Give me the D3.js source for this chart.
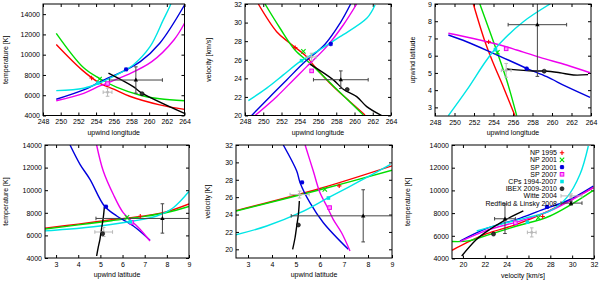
<!DOCTYPE html>
<html><head><meta charset="utf-8">
<script src="https://cdn.jsdelivr.net/npm/d3@7"></script>
<style>
body{margin:0;background:#fff}
svg{display:block}
text{font-family:"Liberation Sans",Arial,sans-serif;fill:#000}
</style>
</head><body><svg id="c" width="600" height="282"></svg>
<script>
// ---------- tick values ----------
const lonTicks = [248,250,252,254,256,258,260,262,264];
const latTicks = [3,4,5,6,7,8,9];
const tempTicks = [4000,6000,8000,10000,12000,14000];
const velTicks = [20,22,24,26,28,30,32];

// ---------- curves: panel 1 (longitude, temperature) ----------
const p1Red = [[249.5,11000],[252.4,8500],[254.4,7200],[256,6600],[257.8,5900],[261.2,5050],[264,4600]];
const p1Green = [[249.5,12100],[252.6,8700],[254.5,7600],[256.3,6800],[259,6000],[261.2,5650],[264,5450]];
const p1Blue = [[249.5,5600],[252.6,6520],[254.5,7340],[257.5,8560],[259,9310],[261.2,11130],[264,14900]];
const p1Magenta = [[249.5,5460],[252.6,6190],[254.5,6940],[257.5,8000],[260.3,9310],[262.8,11450],[264,13100]];
const p1Cyan = [[249.5,6450],[252.6,6690],[254.5,7240],[256.3,8000],[258.2,8990],[260.1,10790],[261.6,13430],[262.4,14900],[262.6,15500]];
const p1Black = [[255.4,8170],[258.2,6840],[259.2,6200],[264,4200]];

// ---------- panel 2 (longitude, velocity) ----------
const p2Red = [[249.46,32],[251.47,29.02],[252.93,27.77],[254.76,26.33],[255.49,25.44],[257.68,23.11],[259.51,21.49],[261.15,20.06]];
const p2Green = [[250.19,32],[251.84,29.39],[253.48,27.05],[255.12,25.62],[257.68,23.18],[260.97,20.06]];
const p2Blue = [[248.73,20.0],[250.74,22.03],[252.57,23.83],[254.39,25.62],[256.77,27.67],[258.41,29.92],[259.58,32]];
const p2Magenta = [[249.1,20],[251.47,22.03],[253.3,23.83],[254.76,25.26],[256.95,27.41],[258.77,29.74],[260.24,32]];
const p2Cyan = [[248.37,21.6],[250.38,22.94],[252.2,24.37],[254.03,25.8],[255.86,26.87],[258.41,28.48],[261.34,30.46],[262.25,31.9]];
const p2Black = [[255.12,25.52],[257.68,23.83],[258.77,22.83],[260.24,22.03],[261.34,20.96],[262.98,19.99]];

// ---------- panel 3 (longitude, latitude) ----------
const p3Red = [[251.93,9],[253.13,6.81],[253.98,5.56],[255.0,4.2],[256.2,2.52]];
const p3Green = [[252.6,9],[254.3,6.33],[255.35,4.59],[256.38,2.52]];
const p3Blue = [[249.37,7.2],[251.25,6.81],[253.98,6.14],[257.4,5.27],[259.46,4.78],[261.5,4.2],[263.9,3.58]];
const p3Magenta = [[249.37,7.3],[251.93,7.0],[254.67,6.62],[256.38,6.33],[258.77,5.9],[261.5,5.46],[263.9,5.01]];
const p3Cyan = [[249.37,2.52],[251.25,4.0],[253.3,5.75],[254.67,6.72],[257.06,7.97],[259.8,9]];
const p3Black = [[255.35,5.23],[258.1,5.11],[259.3,5.11],[260.8,5.01],[262.2,4.88],[263.7,4.9]];

// ---------- panel 4 (latitude, temperature) ----------
const p4Red = [[2.5,6640],[4,7000],[5.5,7380],[7,7730],[8,8100],[9,8780]];
const p4Green = [[2.5,6560],[4,6930],[5.5,7300],[7,7680],[8,8030],[9,8560]];
const p4Blue = [[3.63,14000],[4.08,12290],[4.53,10960],[5.18,8600],[5.74,7717],[6.49,6832],[7.24,5566]];
const p4Magenta = [[4.83,14000],[5.13,11700],[5.58,9637],[6.03,8009],[6.49,7124],[6.79,6540],[7.24,5504]];
const p4Cyan = [[2.42,6389],[3.48,6540],[4.98,6832],[6.49,7274],[7.54,7717],[8.29,8451],[9.08,10080]];
const p4Black = [[4.83,4177],[4.9,4912],[4.98,5655],[5.06,6681],[5.13,7566],[5.18,8513]];

// ---------- panel 5 (latitude, velocity) ----------
const p5Red = [[2.5,24.45],[6,27.0],[9,29.6]];
const p5Green = [[2.5,24.4],[6,26.85],[9,29.1]];
const p5Blue = [[4.47,32],[5.03,29.0],[5.17,27.66],[5.58,25.36],[6.14,23.06],[7.18,20.0]];
const p5Magenta = [[5.38,32],[5.72,29.0],[6.0,26.5],[6.28,24.98],[6.55,23.45],[6.9,21.9],[7.25,19.8]];
const p5Cyan = [[2.46,21.64],[3.78,22.68],[5.17,24.21],[6.35,25.94],[7.67,27.86],[8.94,29.78]];
const p5Black = [[4.86,20.0],[4.96,21.33],[5.03,22.68],[5.1,24.03],[5.14,25.56]];

// ---------- panel 6 (velocity, temperature) ----------
const p6Red = [[19,4722],[20.35,5392],[22.18,6185],[24.92,7013],[27.97,8247],[31.94,10240]];
const p6Green = [[19,5500],[20.5,5550],[22.18,6044],[24.92,6863],[27.97,7744],[31.94,10000]];
const p6Blue = [[19.73,5542],[22.18,6657],[24.92,7453],[27.36,8335],[29.5,9066],[31.94,10390]];
const p6Magenta = [[19.73,5480],[22.18,6480],[25.23,7300],[27.97,8187],[31.94,10240]];
const p6Cyan = [[21.26,6423],[23.4,7013],[25.84,7597],[27.97,8187],[29.5,9360],[30.72,11420],[31.48,13910]];
const p6Black = [[19.89,4220],[21.26,5692],[22.48,6573],[23.7,7300],[25.53,8187]];

// ---------- measurement points ----------
const pointNames = ["NP 1995","NP 2001","SP 2001","SP 2007","CPs 1994-2007","IBEX 2009-2010","Witte 2004","Redfield & Linsky 2008"];
const pointLon = [253.5, 254.4, 257.4, 255.3, 254.2, 259.2, 255.3, 258.5];
const pointLat = [6.8, 6.2, 5.25, 6.4, 6.35, 5.1, 5.15, 7.8];
const pointVel = [27.3, 26.9, 27.7, 24.8, 25.9, 22.8, 26.3, 23.85];
const pointTemp = [7700, 7600, 8550, 7150, 7200, 6150, 6300, 7500];
const witteErr = {lon:0.5, lat:0.4, v:0.4, T:400};
const rlErr = {lon:3.0, lat:3.0, v:0.95, T:1300};

// ---------- styling / layout ----------
const colors = {red:"#ff0000", green:"#00dd00", blue:"#0000dd", magenta:"#ee00ee", cyan:"#00e5e5", black:"#000000", gray:"#b8b8b8"};
const pointColors = [colors.red, colors.green, colors.blue, colors.magenta, colors.cyan, colors.black, colors.gray, colors.black];
const curveOrder = ["red","green","blue","magenta","cyan","black"];
const vals = {lon:pointLon, lat:pointLat, v:pointVel, T:pointTemp};

const panels = [
 {box:[43,184.5,4,115.5], xd:[248,264], yd:[4000,15000], xt:lonTicks, yt:tempTicks, xk:"lon", yk:"T", xl:"upwind longitude", yl:"temperature [K]", ylx:5, curves:[p1Red,p1Green,p1Blue,p1Magenta,p1Cyan,p1Black]},
 {box:[245,391,4,115.5], xd:[248,264], yd:[20,32], xt:lonTicks, yt:velTicks, xk:"lon", yk:"v", xl:"upwind longitude", yl:"velocity [km/s]", ylx:208, curves:[p2Red,p2Green,p2Blue,p2Magenta,p2Cyan,p2Black]},
 {box:[435,591,4,116], xd:[248,264], yd:[2.5,9], xt:lonTicks, yt:latTicks, xk:"lon", yk:"lat", xl:"upwind longitude", yl:"upwind latitude", ylx:412, curves:[p3Red,p3Green,p3Blue,p3Magenta,p3Cyan,p3Black]},
 {box:[45,189,145,258], xd:[2.5,9], yd:[4000,14000], xt:latTicks, yt:tempTicks, xk:"lat", yk:"T", xl:"upwind latitude", yl:"temperature [K]", ylx:5, curves:[p4Red,p4Green,p4Blue,p4Magenta,p4Cyan,p4Black]},
 {box:[236,392,145,258], xd:[2.5,9], yd:[19,32], xt:latTicks, yt:velTicks, xk:"lat", yk:"v", xl:"upwind latitude", yl:"velocity [K]", ylx:207, rlY:"lat", curves:[p5Red,p5Green,p5Blue,p5Magenta,p5Cyan,p5Black]},
 {box:[452,594,145,258.5], xd:[19,32], yd:[4000,14000], xt:velTicks, yt:tempTicks, xk:"v", yk:"T", xl:"velocity [km/s]", yl:"temperature [K]", ylx:407, legend:true, curves:[p6Red,p6Green,p6Blue,p6Magenta,p6Cyan,p6Black]}
];

const svg = d3.select("#c");
const FS = 7;

function drawMarker(g, k, cx, cy) {
  const c = pointColors[k];
  const h = 2.2;
  if (k === 0) g.append("path").attr("d",`M${cx-h},${cy}H${cx+h}M${cx},${cy-h}V${cy+h}`).attr("stroke",c).attr("stroke-width",1.1).attr("fill","none");
  else if (k === 1) g.append("path").attr("d",`M${cx-h},${cy-h}L${cx+h},${cy+h}M${cx-h},${cy+h}L${cx+h},${cy-h}`).attr("stroke",c).attr("stroke-width",1.1).attr("fill","none");
  else if (k === 2) g.append("path").attr("d",`M${cx-h},${cy}H${cx+h}M${cx},${cy-h}V${cy+h}M${cx-h*0.75},${cy-h*0.75}L${cx+h*0.75},${cy+h*0.75}M${cx-h*0.75},${cy+h*0.75}L${cx+h*0.75},${cy-h*0.75}`).attr("stroke",c).attr("stroke-width",1.3).attr("fill","none");
  else if (k === 3) g.append("rect").attr("x",cx-1.8).attr("y",cy-1.8).attr("width",3.6).attr("height",3.6).attr("fill","#ff99ff").attr("stroke",c).attr("stroke-width",1);
  else if (k === 4) g.append("rect").attr("x",cx-1.8).attr("y",cy-1.8).attr("width",3.6).attr("height",3.6).attr("fill",c);
  else if (k === 5) g.append("circle").attr("cx",cx).attr("cy",cy).attr("r",2).attr("fill","#333").attr("stroke","#000").attr("stroke-width",0.6);
  else if (k === 6) g.append("rect").attr("x",cx-1.2).attr("y",cy-1.2).attr("width",2.4).attr("height",2.4).attr("fill",c);
  else if (k === 7) g.append("path").attr("d",`M${cx},${cy-2.4}L${cx+2.2},${cy+1.6}L${cx-2.2},${cy+1.6}Z`).attr("fill",c);
}

function errBar(g, x1, y1, x2, y2, col, horiz) {
  g.append("line").attr("x1",x1).attr("y1",y1).attr("x2",x2).attr("y2",y2).attr("stroke",col).attr("stroke-width",1);
  const c = 1.8;
  if (horiz) {
    [x1,x2].forEach(xx=>g.append("line").attr("x1",xx).attr("x2",xx).attr("y1",y1-c).attr("y2",y1+c).attr("stroke",col).attr("stroke-width",1));
  } else {
    [y1,y2].forEach(yy=>g.append("line").attr("y1",yy).attr("y2",yy).attr("x1",x1-c).attr("x2",x1+c).attr("stroke",col).attr("stroke-width",1));
  }
}

panels.forEach((p, i) => {
  const [L,R,T,B] = p.box;
  const x = d3.scaleLinear().domain(p.xd).range([L,R]);
  const y = d3.scaleLinear().domain(p.yd).range([B,T]);
  const g = svg.append("g");
  const cid = "clip"+i;
  svg.append("clipPath").attr("id",cid).append("rect").attr("x",L).attr("y",T).attr("width",R-L).attr("height",B-T);

  const fmt = d => String(d);
  const ax = (a, tr, labels) => {
    const gg = g.append("g").attr("transform",tr).call(a);
    gg.select(".domain").remove();
    gg.selectAll("line").attr("stroke","#000");
    gg.selectAll("text").attr("font-size",FS).attr("font-family",'"Liberation Sans",Arial,sans-serif');
    if (!labels) gg.selectAll("text").remove();
  };
  ax(d3.axisBottom(x).tickValues(p.xt).tickSize(-3).tickPadding(4).tickFormat(fmt), `translate(0,${B})`, true);
  ax(d3.axisTop(x).tickValues(p.xt).tickSize(-3), `translate(0,${T})`, false);
  ax(d3.axisLeft(y).tickValues(p.yt).tickSize(-3).tickPadding(3).tickFormat(fmt), `translate(${L},0)`, true);
  ax(d3.axisRight(y).tickValues(p.yt).tickSize(-3), `translate(${R},0)`, false);

  g.append("text").attr("x",(L+R)/2).attr("y",B+19).attr("text-anchor","middle").attr("font-size",FS).text(p.xl);
  g.append("text").attr("transform",`translate(${p.ylx+3},${(T+B)/2}) rotate(-90)`).attr("text-anchor","middle").attr("font-size",FS).text(p.yl);

  const pg = g.append("g").attr("clip-path",`url(#${cid})`);
  const line = d3.line().x(d=>x(d[0])).y(d=>y(d[1])).curve(d3.curveCatmullRom.alpha(0.5));
  p.curves.forEach((c, j) => {
    pg.append("path").datum(c).attr("d",line).attr("fill","none").attr("stroke",colors[curveOrder[j]]).attr("stroke-width",1.4);
  });

  // Witte (gray) with error bars
  const wx = x(vals[p.xk][6]), wy = y(vals[p.yk][6]);
  errBar(pg, x(vals[p.xk][6]-witteErr[p.xk]), wy, x(vals[p.xk][6]+witteErr[p.xk]), wy, colors.gray, true);
  errBar(pg, wx, y(vals[p.yk][6]-witteErr[p.yk]), wx, y(vals[p.yk][6]+witteErr[p.yk]), colors.gray, false);
  drawMarker(pg, 6, wx, wy);
  // Redfield & Linsky
  const rx = x(vals[p.xk][7]), ry = y(vals[p.yk][7]);
  const ye = rlErr[p.rlY || p.yk];
  errBar(pg, x(vals[p.xk][7]-rlErr[p.xk]), ry, x(vals[p.xk][7]+rlErr[p.xk]), ry, "#444", true);
  errBar(pg, rx, y(vals[p.yk][7]-ye), rx, y(vals[p.yk][7]+ye), "#444", false);
  drawMarker(pg, 7, rx, ry);
  for (let k = 0; k < 6; k++) drawMarker(pg, k, x(vals[p.xk][k]), y(vals[p.yk][k]));

  g.append("rect").attr("x",L).attr("y",T).attr("width",R-L).attr("height",B-T).attr("fill","none").attr("stroke","#000").attr("stroke-width",1);

  if (p.legend) {
    const lg = g.append("g");
    pointNames.forEach((n, k) => {
      const yy = 152.7 + k*7.2;
      lg.append("text").attr("x",557).attr("y",yy).attr("dy","0.35em").attr("text-anchor","end").attr("font-size",FS).text(n);
      let sx = 562;
      if (k === 6) { sx = 571; errBar(lg, 561, yy, 582, yy, colors.gray, true); errBar(lg, sx, yy-2, sx, yy+2, colors.gray, false); }
      if (k === 7) { sx = 571; errBar(lg, 561, yy, 582, yy, "#444", true); errBar(lg, sx, yy-2, sx, yy+2, "#444", false); }
      drawMarker(lg, k, sx, yy);
    });
  }
});
</script></body></html>
